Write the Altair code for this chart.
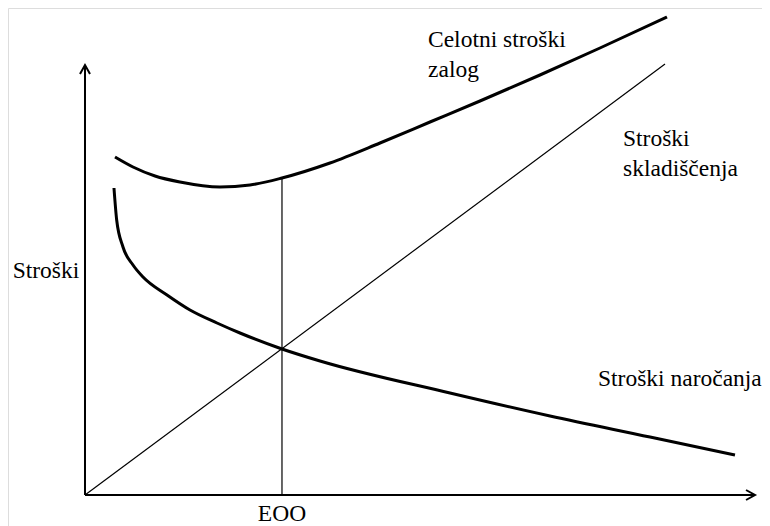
import altair as alt
import pandas as pd

# Quantity (Q) and cost (C) in abstract units
order_q = [4.83, 5.28, 6.33, 8.0, 9.67, 13.67, 17.5, 22.0, 25.83, 32.83, 39.17, 60.83, 77.5, 94.17, 108.33]
order_c = [76.75, 68.75, 62.0, 57.5, 54.5, 50.0, 46.25, 43.0, 40.5, 36.5, 33.5, 25.5, 19.75, 14.5, 10.0]

total_q = [5.0, 8.0, 11.67, 15.83, 22.5, 27.5, 32.83, 40.83, 49.17, 57.5, 65.83, 75.83, 85.83, 97.0]
total_c = [84.5, 82.0, 79.75, 78.25, 77.0, 77.5, 79.25, 83.0, 88.0, 93.25, 98.5, 105.0, 111.75, 119.5]

storage_q = [0.0, 96.67]
storage_c = [0.0, 107.75]

eoq = 32.83
eoq_total = 79.25
x_axis_end = 111.67
y_axis_end = 107.5

label_text = ["Celotni stroški", "zalog", "Stroški", "skladiščenja", "Stroški", "Stroški naročanja", "EOO"]
label_q = [57.17, 57.17, 89.67, 89.67, -12.05, 85.5, eoq]
label_c = [112.0, 104.5, 87.25, 79.75, 54.25, 27.25, -6.5]
label_align = ["left", "left", "left", "left", "left", "left", "center"]

W, H = 754, 518
xs = alt.Scale(domain=[-12.833, 112.833])
ys = alt.Scale(domain=[-7.75, 121.75])
FONT = "Liberation Serif"
FS = 23.5

def X(f="q"):
    return alt.X(f"{f}:Q", scale=xs, axis=None)

def Y(f="c"):
    return alt.Y(f"{f}:Q", scale=ys, axis=None)

order_df = pd.DataFrame({"q": order_q, "c": order_c})
total_df = pd.DataFrame({"q": total_q, "c": total_c})
storage_df = pd.DataFrame({"q": storage_q, "c": storage_c})

order = alt.Chart(order_df).mark_line(color="black", strokeWidth=3, interpolate="monotone").encode(x=X(), y=Y())
total = alt.Chart(total_df).mark_line(color="black", strokeWidth=3, interpolate="monotone").encode(x=X(), y=Y())
storage = alt.Chart(storage_df).mark_line(color="black", strokeWidth=1.2).encode(x=X(), y=Y())

vline_df = pd.DataFrame({"q": [eoq], "c": [0.0], "c2": [eoq_total]})
vline = alt.Chart(vline_df).mark_rule(color="black", strokeWidth=1.2).encode(x=X(), y=Y(), y2="c2:Q")

yaxis_df = pd.DataFrame({"q": [0.0], "c": [0.0], "c2": [y_axis_end]})
yaxis = alt.Chart(yaxis_df).mark_rule(color="black", strokeWidth=2).encode(x=X(), y=Y(), y2="c2:Q")
xaxis_df = pd.DataFrame({"q": [0.0], "q2": [x_axis_end], "c": [0.0]})
xaxis = alt.Chart(xaxis_df).mark_rule(color="black", strokeWidth=2).encode(x=X(), x2="q2:Q", y=Y())

head_path = "M -1 1.8 L 0 0 L 1 1.8"
yhead = alt.Chart(pd.DataFrame({"q": [0.0], "c": [y_axis_end]})).mark_point(
    shape=head_path, size=100, filled=False, color="black", strokeWidth=2, opacity=1
).encode(x=X(), y=Y())
xhead = alt.Chart(pd.DataFrame({"q": [x_axis_end], "c": [0.0]})).mark_point(
    shape=head_path, size=100, filled=False, color="black", strokeWidth=2, opacity=1, angle=90
).encode(x=X(), y=Y())

lab_df = pd.DataFrame({"t": label_text, "q": label_q, "c": label_c, "a": label_align})
labels_left = alt.Chart(lab_df[lab_df.a == "left"]).mark_text(
    font=FONT, fontSize=FS, color="black", align="left", baseline="alphabetic"
).encode(x=X(), y=Y(), text="t:N")
labels_center = alt.Chart(lab_df[lab_df.a == "center"]).mark_text(
    font=FONT, fontSize=FS, color="black", align="center", baseline="alphabetic"
).encode(x=X(), y=Y(), text="t:N")

chart = alt.layer(
    storage, vline, yaxis, xaxis, yhead, xhead, order, total, labels_left, labels_center
).properties(
    width=W, height=H, autosize=alt.AutoSizeParams(type="none"), padding=0
).configure_view(stroke=None).configure(background="white")

chart.save("out.html", embed_options={"renderer": "svg", "actions": False})
